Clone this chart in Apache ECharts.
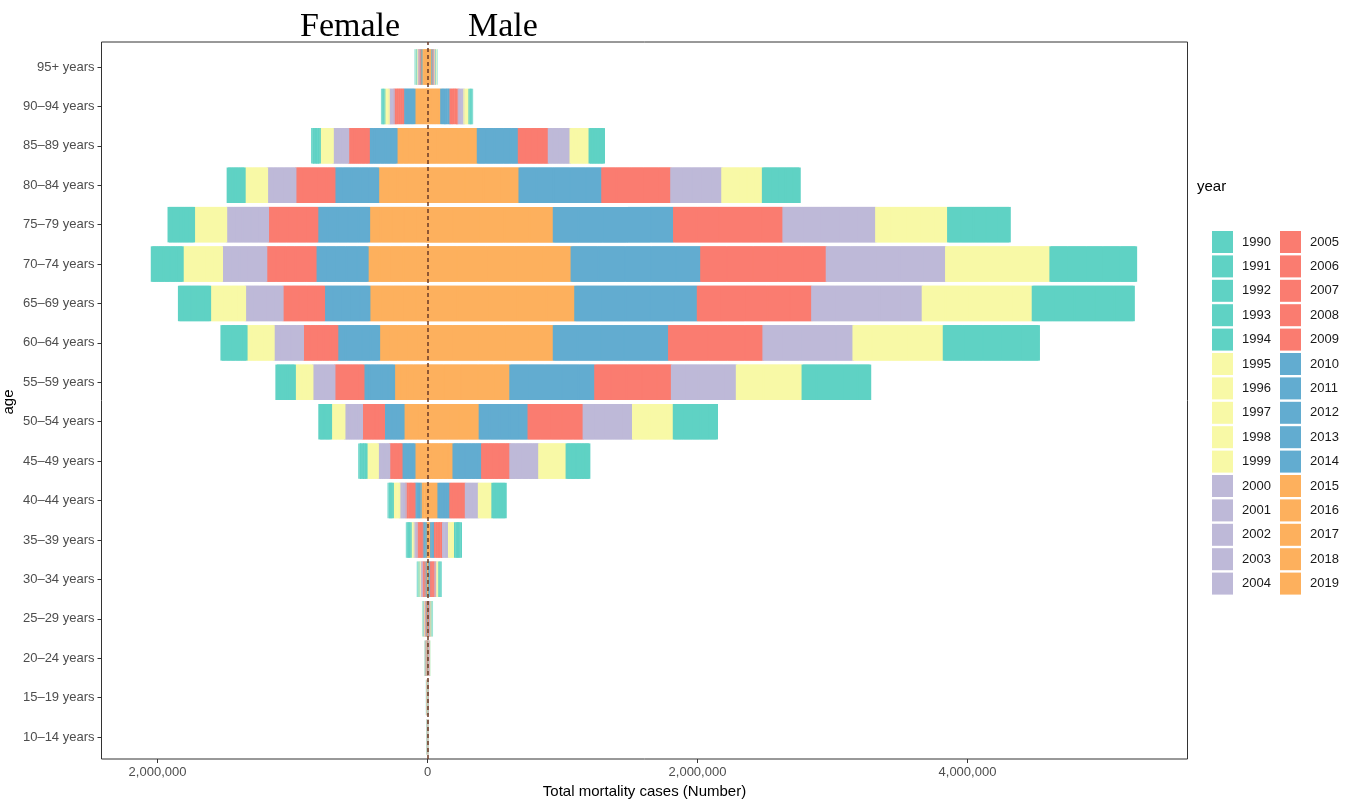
<!DOCTYPE html>
<html>
<head>
<meta charset="utf-8">
<script src="https://cdn.jsdelivr.net/npm/echarts@6/dist/echarts.min.js"></script>
<style>html,body{margin:0;padding:0;background:#fff}#chart{width:1352px;height:800px}</style>
</head>
<body>
<div id="chart"></div>
<script>
// ---- data (thousands of deaths) ----
const ages = ['10–14 years','15–19 years','20–24 years','25–29 years','30–34 years','35–39 years','40–44 years','45–49 years','50–54 years','55–59 years','60–64 years','65–69 years','70–74 years','75–79 years','80–84 years','85–89 years','90–94 years','95+ years'];
const years = [1990,1991,1992,1993,1994,1995,1996,1997,1998,1999,2000,2001,2002,2003,2004,2005,2006,2007,2008,2009,2010,2011,2012,2013,2014,2015,2016,2017,2018,2019];
const xTicks = [-2000000, 0, 2000000, 4000000];
const UNIT = 1000;

// female[ageIndex][yearIndex]
const female = [
 [0.2,0.2,0.2,0.2,0.2, 0.2,0.2,0.2,0.2,0.2, 0.2,0.2,0.2,0.2,0.2, 0.1,0.2,0.1,0.2,0.2, 0.2,0.3,0.2,0.3,0.3, 0.4,0.4,0.4,0.4,0.4],
 [0.3,0.3,0.3,0.3,0.3, 0.4,0.5,0.4,0.5,0.4, 0.3,0.3,0.3,0.3,0.3, 0.4,0.5,0.4,0.5,0.4, 0.4,0.5,0.4,0.5,0.4, 0.6,0.6,0.6,0.6,0.6],
 [0.4,0.4,0.5,0.4,0.5, 0.4,0.4,0.5,0.4,0.5, 0.6,0.6,0.6,0.6,0.6, 0.8,0.9,0.9,0.9,1.0, 1.0,1.0,1.0,1.1,1.1, 1.4,1.5,1.5,1.5,1.6],
 [0.7,0.7,0.7,0.8,0.8, 1.0,1.0,1.0,1.1,1.1, 1.1,1.2,1.2,1.2,1.3, 1.4,1.5,1.5,1.5,1.6, 1.4,1.5,1.5,1.5,1.6, 2.1,2.2,2.2,2.2,2.3],
 [1.7,1.8,1.8,1.8,1.9, 2.1,2.2,2.2,2.2,2.3, 2.9,3.0,3.0,3.0,3.1, 3.5,3.6,3.7,3.8,3.9, 2.1,2.2,2.2,2.2,2.3, 2.9,3.0,3.0,3.0,3.1],
 [6.2,6.4,6.5,6.6,6.8, 3.7,3.8,3.9,4.0,4.1, 4.8,4.9,5.0,5.1,5.2, 7.9,8.1,8.3,8.5,8.7, 4.8,4.9,5.0,5.1,5.2, 3.3,3.4,3.4,3.4,3.5],
 [6.9,7.1,7.2,7.3,7.5, 9.2,9.4,9.6,9.8,10.0, 8.8,9.0,9.2,9.4,9.6, 12.6,12.9,13.2,13.5,13.8, 8.8,9.0,9.2,9.4,9.6, 10.4,10.6,10.8,11.0,11.2],
 [11.0,11.3,11.6,11.9,12.2, 16.0,16.4,16.8,17.2,17.6, 16.0,16.4,16.8,17.2,17.6, 17.4,17.8,18.2,18.6,19.0, 18.4,18.8,19.2,19.6,20.0, 19.2,19.6,20.0,20.4,20.8],
 [17.4,17.8,18.2,18.6,19.0, 18.9,19.4,19.8,20.2,20.7, 24.8,25.4,26.0,26.6,27.2, 31.2,31.9,32.6,33.3,34.0, 27.7,28.4,29.0,29.6,30.3, 34.6,35.4,36.2,37.0,37.8],
 [27.0,27.6,28.2,28.8,29.4, 24.9,25.4,26.0,26.6,27.1, 31.2,31.9,32.6,33.3,34.0, 41.1,42.0,43.0,44.0,44.9, 43.4,44.4,45.4,46.4,47.4, 48.0,49.1,50.2,51.3,52.4],
 [36.3,37.2,38.0,38.8,39.7, 38.4,39.3,40.2,41.1,42.0, 41.5,42.4,43.4,44.4,45.3, 48.6,49.7,50.8,51.9,53.0, 59.3,60.6,62.0,63.4,64.7, 69.2,70.8,72.4,74.0,75.6],
 [44.9,46.0,47.0,48.0,49.1, 49.5,50.7,51.8,52.9,54.1, 53.2,54.4,55.6,56.8,58.0, 58.7,60.0,61.4,62.8,64.1, 64.2,65.7,67.2,68.7,70.2, 83.0,84.9,86.8,88.7,90.6],
 [44.5,45.6,46.6,47.6,48.7, 55.6,56.9,58.2,59.5,60.8, 62.7,64.1,65.6,67.1,68.5, 69.8,71.4,73.0,74.6,76.2, 73.8,75.5,77.2,78.9,80.6, 85.4,87.4,89.4,91.4,93.4],
 [36.9,37.7,38.6,39.5,40.3, 45.5,46.5,47.6,48.7,49.7, 59.3,60.6,62.0,63.4,64.7, 69.8,71.4,73.0,74.6,76.2, 73.4,75.1,76.8,78.5,80.2, 83.3,85.2,87.2,89.2,91.1],
 [24.8,25.4,26.0,26.6,27.2, 31.7,32.5,33.2,33.9,34.7, 40.1,41.1,42.0,42.9,43.9, 55.2,56.5,57.8,59.1,60.4, 61.9,63.4,64.8,66.2,67.7, 70.5,72.2,73.8,75.4,77.1],
 [11.7,11.9,12.2,12.5,12.7, 18.3,18.8,19.2,19.6,20.1, 21.8,22.3,22.8,23.3,23.8, 29.2,29.9,30.6,31.3,32.0, 39.2,40.1,41.0,41.9,42.8, 44.5,45.6,46.6,47.6,48.7],
 [4.2,4.3,4.4,4.5,4.6, 6.1,6.3,6.4,6.5,6.7, 7.1,7.2,7.4,7.6,7.7, 13.4,13.7,14.0,14.3,14.6, 16.0,16.4,16.8,17.2,17.6, 19.1,19.6,20.0,20.4,20.9],
 [1.4,1.5,1.5,1.5,1.6, 1.4,1.5,1.5,1.5,1.6, 2.1,2.2,2.2,2.2,2.3, 2.1,2.2,2.2,2.2,2.3, 2.1,2.2,2.2,2.2,2.3, 9.2,9.4,9.6,9.8,10.0]
];

// male[ageIndex][yearIndex]
const male = [
 [0.1,0.1,0.1,0.1,0.1, 0.1,0.1,0.1,0.1,0.1, 0.1,0.1,0.1,0.1,0.1, 0.1,0.1,0.1,0.1,0.1, 0.1,0.1,0.1,0.1,0.1, 0.2,0.1,0.2,0.1,0.2],
 [0.2,0.2,0.2,0.2,0.3, 0.2,0.2,0.2,0.2,0.3, 0.3,0.3,0.3,0.3,0.3, 0.3,0.3,0.3,0.3,0.3, 0.3,0.3,0.3,0.3,0.3, 0.4,0.4,0.5,0.4,0.5],
 [0.3,0.3,0.3,0.3,0.3, 0.4,0.4,0.5,0.4,0.5, 0.6,0.6,0.6,0.6,0.6, 0.8,0.9,0.9,0.9,1.0, 0.8,0.9,0.9,0.9,1.0, 1.3,1.3,1.3,1.4,1.4],
 [1.1,1.2,1.2,1.2,1.3, 1.0,1.0,1.0,1.1,1.1, 1.0,1.0,1.0,1.1,1.1, 1.4,1.5,1.5,1.5,1.6, 1.1,1.2,1.2,1.2,1.3, 2.1,2.2,2.2,2.2,2.3],
 [3.2,3.3,3.4,3.5,3.6, 2.9,3.0,3.0,3.0,3.1, 2.4,2.5,2.5,2.5,2.6, 6.1,6.3,6.4,6.5,6.7, 2.9,3.0,3.0,3.0,3.1, 2.9,3.0,3.0,3.0,3.1],
 [9.2,9.4,9.6,9.8,10.0, 8.5,8.7,8.9,9.1,9.3, 8.5,8.7,8.9,9.1,9.3, 11.3,11.6,11.9,12.2,12.5, 5.6,5.8,5.9,6.0,6.2, 5.6,5.8,5.9,6.0,6.2],
 [19.7,20.1,20.6,21.1,21.5, 19.1,19.6,20.0,20.4,20.9, 18.4,18.9,19.3,19.7,20.2, 22.0,22.5,23.0,23.5,24.0, 16.8,17.2,17.6,18.0,18.4, 16.1,16.5,16.9,17.3,17.7],
 [33.0,33.8,34.5,35.2,36.0, 38.8,39.7,40.6,41.5,42.4, 40.9,41.8,42.8,43.8,44.7, 40.0,40.9,41.8,42.7,43.6, 40.5,41.5,42.4,43.3,44.3, 37.5,38.3,39.2,40.1,40.9],
 [61.9,63.4,64.8,66.2,67.7, 57.7,59.1,60.4,61.7,63.1, 70.0,71.6,73.2,74.8,76.4, 78.0,79.8,81.6,83.4,85.2, 69.2,70.8,72.4,74.0,75.6, 74.6,76.3,78.0,79.7,81.4],
 [96.6,98.8,101.0,103.2,105.4, 93.1,95.3,97.4,99.5,101.7, 92.0,94.1,96.2,98.3,100.4, 108.6,111.1,113.6,116.1,118.6, 120.3,123.0,125.8,128.6,131.3, 118.0,120.7,123.4,126.1,128.8],
 [135.6,138.7,141.8,144.9,148.0, 127.9,130.9,133.8,136.7,139.7, 127.5,130.5,133.4,136.3,139.3, 133.6,136.7,139.8,142.9,146.0, 163.3,167.0,170.8,174.6,178.3, 179.5,183.7,187.8,191.9,196.1],
 [144.0,147.3,150.6,153.9,157.2, 155.8,159.4,163.0,166.6,170.2, 156.6,160.2,163.8,167.4,171.0, 162.0,165.7,169.4,173.1,176.8, 173.6,177.6,181.6,185.6,189.6, 209.9,214.8,219.6,224.4,229.3],
 [122.2,125.0,127.8,130.6,133.4, 147.8,151.2,154.6,158.0,161.4, 169.0,172.9,176.8,180.7,184.6, 177.8,181.9,186.0,190.1,194.2, 183.6,187.8,192.0,196.2,200.4, 204.8,209.5,214.2,218.9,223.6],
 [88.1,90.2,92.2,94.2,96.3, 101.9,104.3,106.6,108.9,111.3, 131.4,134.4,137.4,140.4,143.4, 154.9,158.4,162.0,165.6,169.1, 170.4,174.3,178.2,182.1,186.0, 179.5,183.7,187.8,191.9,196.1],
 [53.0,54.2,55.4,56.6,57.8, 57.6,58.9,60.2,61.5,62.8, 72.3,73.9,75.6,77.3,78.9, 97.7,99.9,102.2,104.5,106.7, 117.2,119.9,122.6,125.3,128.0, 131.0,134.0,137.0,140.0,143.0],
 [21.2,21.7,22.2,22.7,23.2, 27.0,27.6,28.2,28.8,29.4, 30.8,31.5,32.2,32.9,33.6, 42.4,43.4,44.4,45.4,46.4, 58.1,59.5,60.8,62.1,63.5, 71.9,73.6,75.2,76.8,78.5],
 [4.6,4.7,4.8,4.9,5.0, 7.1,7.2,7.4,7.6,7.7, 8.0,8.2,8.4,8.6,8.8, 11.7,11.9,12.2,12.5,12.7, 13.2,13.5,13.8,14.1,14.4, 20.1,20.5,21.0,21.5,21.9],
 [1.0,1.0,1.0,1.0,1.0, 1.1,1.2,1.2,1.2,1.3, 1.4,1.5,1.5,1.5,1.6, 1.4,1.5,1.5,1.5,1.6, 2.1,2.2,2.2,2.2,2.3, 7.1,7.2,7.4,7.6,7.7]
];

// ---- style ----
const groupColors = ['#5fd2c4','#f8f9a6','#beb9d8','#fa7c70','#62acd0','#fdb05d'];
const FONT = 'Liberation Sans, Arial, sans-serif';
const X_MIN = -2415000, X_MAX = 5630000;

const series = [];
for (let j = years.length - 1; j >= 0; j--) {
  const color = groupColors[Math.floor(j / 5)];
  const common = {
    type: 'bar', name: String(years[j]), stack: 'pyramid',
    xAxisIndex: 0, yAxisIndex: 0, barWidth: '90%',
    emphasis: { disabled: true }, animation: false
  };
  // a same-coloured shadow pointing toward zero hides hairline seams between stacked segments
  series.push(Object.assign({}, common, {
    itemStyle: { color: color, shadowColor: color, shadowBlur: 0, shadowOffsetX: 1.5, shadowOffsetY: 0 },
    data: female.map(r => -r[j] * UNIT)
  }));
  series.push(Object.assign({}, common, {
    itemStyle: { color: color, shadowColor: color, shadowBlur: 0, shadowOffsetX: -1.5, shadowOffsetY: 0 },
    data: male.map(r => r[j] * UNIT)
  }));
}
// zero reference line spanning the full panel
series.push({
  type: 'line', xAxisIndex: 1, yAxisIndex: 1, data: [], z: 10, silent: true, animation: false,
  markLine: {
    symbol: 'none', silent: true, animation: false, label: { show: false },
    lineStyle: { color: '#6b3a26', type: [4, 3], width: 1.5 },
    data: [{ xAxis: 0 }]
  }
});

const legendBase = {
  orient: 'vertical', top: 231, itemWidth: 21, itemHeight: 22, itemGap: 2.4,
  padding: 0, icon: 'rect', selectedMode: false,
  itemStyle: { borderWidth: 0, shadowBlur: 0, shadowOffsetX: 0, shadowColor: 'transparent' },
  textStyle: { fontSize: 13, lineHeight: 14, color: '#1a1a1a', fontFamily: FONT, padding: [0, 0, 0, 4] }
};

const option = {
  backgroundColor: '#ffffff',
  animation: false,
  title: [
    { text: 'Female', left: 300, top: 10, padding: 0,
      textStyle: { fontFamily: 'Liberation Serif, Times New Roman, serif', fontSize: 34, fontWeight: 'normal', color: '#000' } },
    { text: 'Male', left: 468, top: 10, padding: 0,
      textStyle: { fontFamily: 'Liberation Serif, Times New Roman, serif', fontSize: 34, fontWeight: 'normal', color: '#000' } },
    { text: 'year', left: 1197, top: 179, padding: 0,
      textStyle: { fontFamily: FONT, fontSize: 15, fontWeight: 'normal', color: '#000' } }
  ],
  legend: [
    Object.assign({}, legendBase, { left: 1212, data: years.slice(0, 15).map(String) }),
    Object.assign({}, legendBase, { left: 1280, data: years.slice(15).map(String) })
  ],
  grid: [
    { left: 101.5, right: 164.5, top: 47.3, bottom: 43.3, containLabel: false, outerBoundsMode: 'none' },
    { left: 101.5, right: 164.5, top: 42, bottom: 41, show: true, borderColor: '#333', borderWidth: 1,
      backgroundColor: 'transparent', containLabel: false, outerBoundsMode: 'none' }
  ],
  xAxis: [
    { gridIndex: 0, type: 'value', min: X_MIN, max: X_MAX, show: false },
    { gridIndex: 1, type: 'value', min: X_MIN, max: X_MAX, position: 'bottom',
      axisLine: { show: false }, splitLine: { show: false },
      axisTick: { show: true, customValues: xTicks, length: 4, lineStyle: { color: '#333' } },
      axisLabel: { customValues: xTicks, color: '#4d4d4d', fontSize: 13, fontFamily: FONT, margin: 7,
        formatter: v => Math.abs(v).toLocaleString('en-US') },
      name: 'Total mortality cases (Number)', nameLocation: 'middle', nameGap: 23,
      nameTextStyle: { fontSize: 15, color: '#000', fontFamily: FONT } }
  ],
  yAxis: [
    { gridIndex: 0, type: 'category', data: ages, position: 'left',
      axisLine: { show: false, onZero: false },
      axisTick: { show: true, alignWithLabel: true, length: 4, lineStyle: { color: '#333' } },
      axisLabel: { color: '#4d4d4d', fontSize: 13, fontFamily: FONT, margin: 7 },
      splitLine: { show: false },
      name: 'age', nameLocation: 'middle', nameGap: 85, nameRotate: 90, nameMoveOverlap: false,
      nameTextStyle: { fontSize: 15, color: '#000', fontFamily: FONT } },
    { gridIndex: 1, type: 'value', min: 0, max: 1, show: false }
  ],
  series: series
};

const chart = echarts.init(document.getElementById('chart'), null, { renderer: 'canvas' });
chart.setOption(option);
</script>
</body>
</html>
